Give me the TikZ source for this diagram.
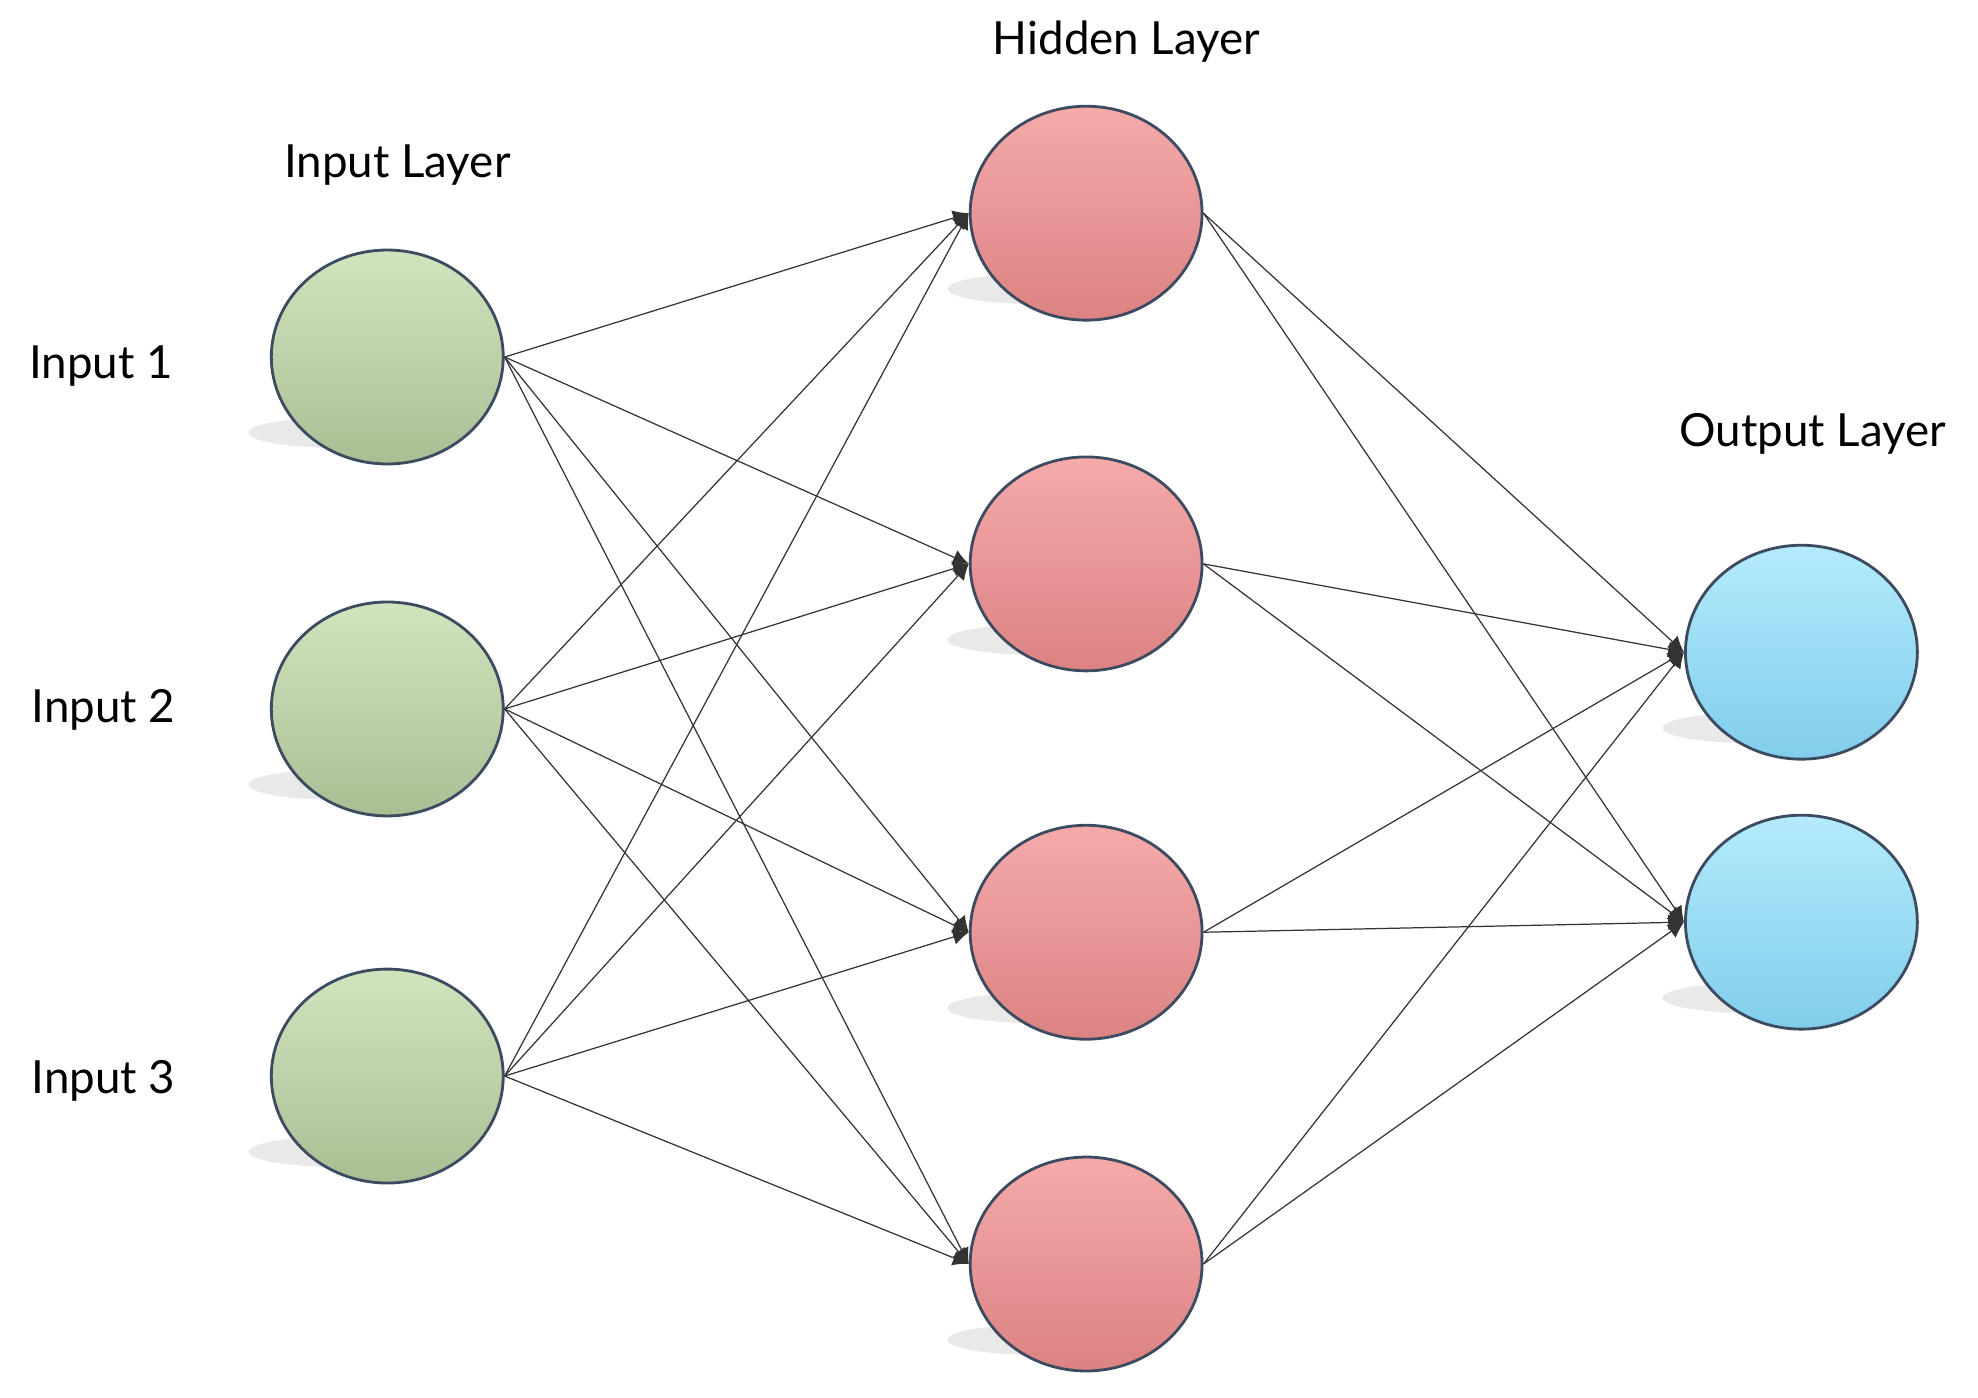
\documentclass[tikz,border=0pt]{standalone}
\usepackage{fontspec}
\setmainfont{Lato}
\usetikzlibrary{arrows.meta,shapes.geometric}
\definecolor{gtop}{RGB}{210,228,190}
\definecolor{gmid}{RGB}{183,204,158}
\definecolor{gbot}{RGB}{170,190,148}
\definecolor{rtop}{RGB}{245,170,170}
\definecolor{rmid}{RGB}{232,138,138}
\definecolor{rbot}{RGB}{220,130,130}
\definecolor{btop}{RGB}{180,235,252}
\definecolor{bmid}{RGB}{138,218,248}
\definecolor{bbot}{RGB}{128,205,235}
\definecolor{rim}{RGB}{60,75,95}
\begin{document}
\begin{tikzpicture}[x=0.012615cm,y=-0.012615cm,
  neuron/.style={ellipse, minimum width=2.32cm, minimum height=2.14cm, draw=rim, line width=0.8pt, inner sep=0pt},
  inp/.style={neuron, top color=gtop, middle color=gmid, bottom color=gbot},
  hid/.style={neuron, top color=rtop, middle color=rmid, bottom color=rbot},
  outp/.style={neuron, top color=btop, middle color=bmid, bottom color=bbot},
  shadow/.style={fill=black!12, opacity=0.7},
  lbl/.style={font=\fontsize{13}{15}\selectfont},
  edge/.style={black!80, line width=0.35pt, -{Latex[length=4.5pt,width=4.5pt]}}]
\useasboundingbox (0,0) rectangle (1568,1108);
\foreach \x/\y in {307/283,307/562,307/853,861/169,861/447,861/739,861/1002,1428/517,1428/731}
  \fill[shadow] (\x-40,\y+60) ellipse [x radius=70, y radius=12];
\node[inp] (i1) at (307,283) {};
\node[inp] (i2) at (307,562) {};
\node[inp] (i3) at (307,853) {};
\node[hid] (h1) at (861,169) {};
\node[hid] (h2) at (861,447) {};
\node[hid] (h3) at (861,739) {};
\node[hid] (h4) at (861,1002) {};
\node[outp] (o1) at (1428,517) {};
\node[outp] (o2) at (1428,731) {};
\node[lbl] (tin) at (315,131) {Input Layer};
\node[lbl] (thid) at (893,33) {Hidden Layer};
\node[lbl] (tout) at (1437,344) {Output Layer};
\node[lbl] (l1) at (80,290) {Input 1};
\node[lbl] (l2) at (82,563) {Input 2};
\node[lbl] (l3) at (82,857) {Input 3};
\foreach \i in {1,2,3}
  \foreach \h in {1,2,3,4}
    \draw[edge] (i\i.east) -- (h\h.west);
\foreach \h in {1,2,3,4}
  \foreach \o in {1,2}
    \draw[edge] (h\h.east) -- (o\o.west);
\end{tikzpicture}
\end{document}
